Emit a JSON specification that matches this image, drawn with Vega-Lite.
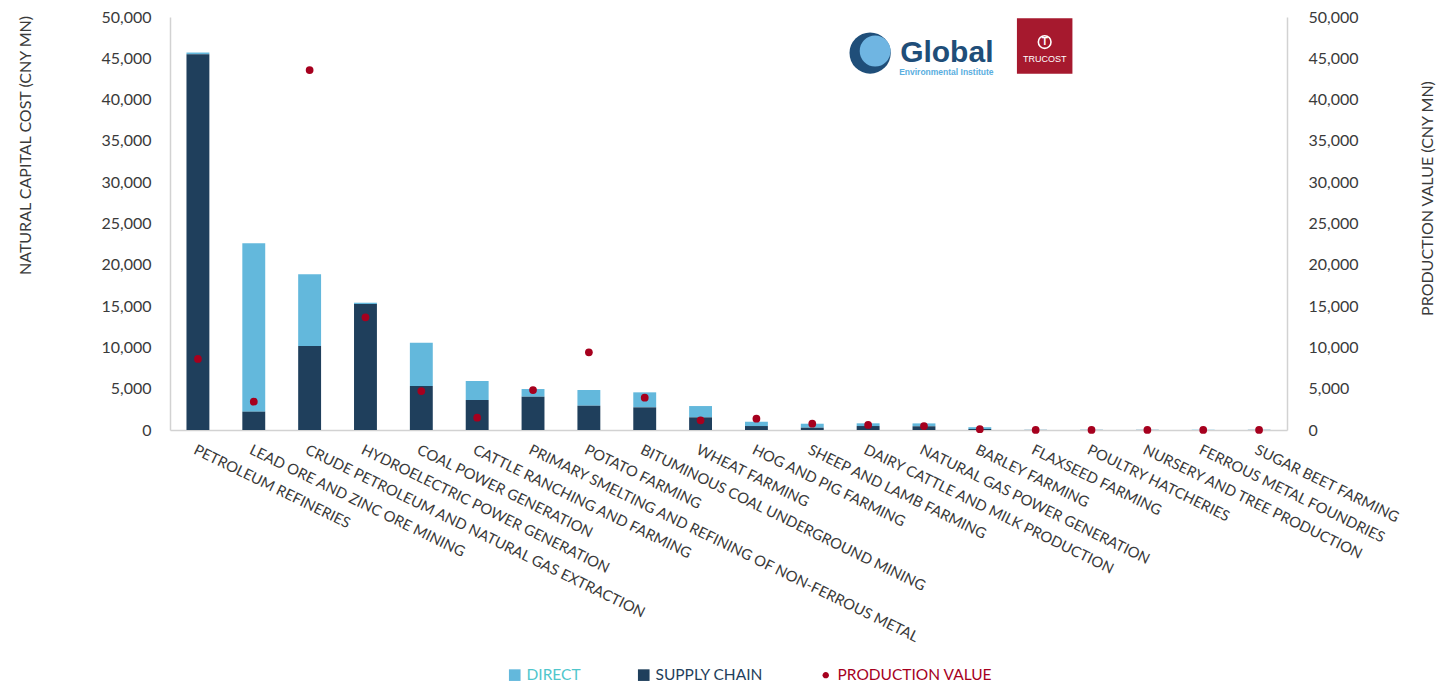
{
  "$schema": "https://vega.github.io/schema/vega-lite/v6.json",
  "width": 1117,
  "height": 413,
  "autosize": {"type": "none"},
  "padding": {"left": 170, "top": 17, "right": 159, "bottom": 255},
  "background": "white",
  "config": {
    "view": {"stroke": null},
    "font": "Lato",
    "axis": {"grid": false, "ticks": false, "domainColor": "#d2d2d2", "domainWidth": 1.5, "labelColor": "#3a3a3a", "titleColor": "#3a3a3a", "titleFontWeight": "normal", "labelFont": "Lato", "titleFont": "Lato"}
  },
  "data": {
    "values": [
      {"industry": "PETROLEUM REFINERIES", "DIRECT": 200, "SUPPLY CHAIN": 45500, "production": 8600},
      {"industry": "LEAD ORE AND ZINC ORE MINING", "DIRECT": 20380, "SUPPLY CHAIN": 2220, "production": 3430},
      {"industry": "CRUDE PETROLEUM AND NATURAL GAS EXTRACTION", "DIRECT": 8680, "SUPPLY CHAIN": 10170, "production": 43580},
      {"industry": "HYDROELECTRIC POWER GENERATION", "DIRECT": 160, "SUPPLY CHAIN": 15250, "production": 13640},
      {"industry": "COAL POWER GENERATION", "DIRECT": 5240, "SUPPLY CHAIN": 5330, "production": 4720},
      {"industry": "CATTLE RANCHING AND FARMING", "DIRECT": 2300, "SUPPLY CHAIN": 3630, "production": 1490},
      {"industry": "PRIMARY SMELTING AND REFINING OF NON-FERROUS METAL", "DIRECT": 930, "SUPPLY CHAIN": 4030, "production": 4840},
      {"industry": "POTATO FARMING", "DIRECT": 1900, "SUPPLY CHAIN": 2940, "production": 9400},
      {"industry": "BITUMINOUS COAL UNDERGROUND MINING", "DIRECT": 1820, "SUPPLY CHAIN": 2740, "production": 3910},
      {"industry": "WHEAT FARMING", "DIRECT": 1370, "SUPPLY CHAIN": 1530, "production": 1170},
      {"industry": "HOG AND PIG FARMING", "DIRECT": 520, "SUPPLY CHAIN": 480, "production": 1370},
      {"industry": "SHEEP AND LAMB FARMING", "DIRECT": 480, "SUPPLY CHAIN": 280, "production": 760},
      {"industry": "DAIRY CATTLE AND MILK PRODUCTION", "DIRECT": 330, "SUPPLY CHAIN": 480, "production": 620},
      {"industry": "NATURAL GAS POWER GENERATION", "DIRECT": 350, "SUPPLY CHAIN": 450, "production": 480},
      {"industry": "BARLEY FARMING", "DIRECT": 220, "SUPPLY CHAIN": 120, "production": 100},
      {"industry": "FLAXSEED FARMING", "DIRECT": 20, "SUPPLY CHAIN": 10, "production": 10},
      {"industry": "POULTRY HATCHERIES", "DIRECT": 20, "SUPPLY CHAIN": 10, "production": 10},
      {"industry": "NURSERY AND TREE PRODUCTION", "DIRECT": 20, "SUPPLY CHAIN": 10, "production": 10},
      {"industry": "FERROUS METAL FOUNDRIES", "DIRECT": 20, "SUPPLY CHAIN": 10, "production": 10},
      {"industry": "SUGAR BEET FARMING", "DIRECT": 20, "SUPPLY CHAIN": 10, "production": 10}
    ]
  },
  "layer": [
    {
      "layer": [
        {
          "transform": [{"fold": ["DIRECT", "SUPPLY CHAIN"], "as": ["series", "cost"]}],
          "mark": {"type": "bar"},
          "encoding": {
            "x": {
              "field": "industry", "type": "nominal", "sort": null, "title": null,
              "scale": {
                "domain": ["PETROLEUM REFINERIES", "LEAD ORE AND ZINC ORE MINING", "CRUDE PETROLEUM AND NATURAL GAS EXTRACTION", "HYDROELECTRIC POWER GENERATION", "COAL POWER GENERATION", "CATTLE RANCHING AND FARMING", "PRIMARY SMELTING AND REFINING OF NON-FERROUS METAL", "POTATO FARMING", "BITUMINOUS COAL UNDERGROUND MINING", "WHEAT FARMING", "HOG AND PIG FARMING", "SHEEP AND LAMB FARMING", "DAIRY CATTLE AND MILK PRODUCTION", "NATURAL GAS POWER GENERATION", "BARLEY FARMING", "FLAXSEED FARMING", "POULTRY HATCHERIES", "NURSERY AND TREE PRODUCTION", "FERROUS METAL FOUNDRIES", "SUGAR BEET FARMING"],
                "paddingInner": 0.59, "paddingOuter": 0.295
              },
              "axis": {"labelAngle": 26, "labelAlign": "left", "labelBaseline": "top", "labelPadding": 12, "labelFontSize": 14.8, "labelLimit": 1000, "labelOverlap": false}
            },
            "y": {
              "field": "cost", "type": "quantitative", "stack": "zero",
              "scale": {"domain": [0, 50000], "nice": false},
              "axis": {"title": "NATURAL CAPITAL COST (CNY  MN)", "tickCount": 10, "format": ",.0f", "labelFontSize": 16, "labelPadding": 19, "titleFontSize": 16, "titleX": -145, "titleY": 128, "titleAngle": -90, "titleAlign": "center", "titleBaseline": "middle"}
            },
            "color": {
              "field": "series", "type": "nominal",
              "scale": {"domain": ["DIRECT", "SUPPLY CHAIN", "PRODUCTION VALUE"], "range": ["#63b8dc", "#1f3f5c", "#a6001e"]},
              "legend": {
                "title": null, "orient": "none", "legendX": 337, "legendY": 650, "direction": "horizontal",
                "labelFontSize": 15.5, "labelFont": "Lato", "columnPadding": 55, "labelOffset": 4,
                "symbolSize": 135, "symbolStrokeWidth": 0,
                "symbolType": {"expr": "datum.value === 'PRODUCTION VALUE' ? 'M -0.55,0 A 0.55,0.55 0 1,1 0.55,0 A 0.55,0.55 0 1,1 -0.55,0 Z' : 'square'"},
                "labelColor": {"expr": "datum.value === 'DIRECT' ? '#4fc6cc' : (datum.value === 'SUPPLY CHAIN' ? '#1f3f5c' : '#a6001e')"}
              }
            },
            "order": {"field": "series", "sort": "descending"}
          }
        },
        {
          "data": {"values": [{}]},
          "mark": {"type": "circle", "size": 1700, "color": "#1f4e79", "opacity": 1, "xOffset": 2},
          "encoding": {
            "x": {"datum": "DAIRY CATTLE AND MILK PRODUCTION", "type": "nominal"},
            "y": {"datum": 45640, "type": "quantitative"}
          }
        },
        {
          "data": {"values": [{}]},
          "mark": {"type": "circle", "size": 950, "color": "#6fb5e2", "opacity": 1, "xOffset": 7, "yOffset": -2},
          "encoding": {
            "x": {"datum": "DAIRY CATTLE AND MILK PRODUCTION", "type": "nominal"},
            "y": {"datum": 45640, "type": "quantitative"}
          }
        },
        {
          "data": {"values": [{}]},
          "mark": {"type": "text", "text": "Global", "font": "Liberation Sans", "fontWeight": "bold", "fontSize": 30, "color": "#1f4e79", "align": "left", "baseline": "alphabetic", "dx": 32},
          "encoding": {
            "x": {"datum": "DAIRY CATTLE AND MILK PRODUCTION", "type": "nominal"},
            "y": {"datum": 44550, "type": "quantitative"}
          }
        },
        {
          "data": {"values": [{}]},
          "mark": {"type": "text", "text": "Environmental Institute", "font": "Liberation Sans", "fontWeight": "bold", "fontSize": 8.5, "color": "#5aaee0", "align": "left", "baseline": "alphabetic", "dx": 31},
          "encoding": {
            "x": {"datum": "DAIRY CATTLE AND MILK PRODUCTION", "type": "nominal"},
            "y": {"datum": 43000, "type": "quantitative"}
          }
        },
        {
          "data": {"values": [{}]},
          "mark": {"type": "square", "size": 3080, "color": "#a6192e", "opacity": 1, "filled": true, "xOffset": 9},
          "encoding": {
            "x": {"datum": "FLAXSEED FARMING", "type": "nominal"},
            "y": {"datum": 46489, "type": "quantitative"}
          }
        },
        {
          "data": {"values": [{}]},
          "mark": {"type": "point", "shape": "circle", "size": 160, "filled": false, "stroke": "white", "strokeWidth": 1.6, "opacity": 1, "xOffset": 9},
          "encoding": {
            "x": {"datum": "FLAXSEED FARMING", "type": "nominal"},
            "y": {"datum": 46973, "type": "quantitative"}
          }
        },
        {
          "data": {"values": [{}]},
          "mark": {"type": "text", "text": "T", "font": "Liberation Sans", "fontWeight": "bold", "fontSize": 10, "color": "white", "align": "center", "baseline": "middle", "dx": 9},
          "encoding": {
            "x": {"datum": "FLAXSEED FARMING", "type": "nominal"},
            "y": {"datum": 46973, "type": "quantitative"}
          }
        },
        {
          "data": {"values": [{}]},
          "mark": {"type": "text", "text": "TRUCOST", "font": "Liberation Sans", "fontSize": 9, "color": "white", "align": "center", "baseline": "middle", "dx": 9},
          "encoding": {
            "x": {"datum": "FLAXSEED FARMING", "type": "nominal"},
            "y": {"datum": 44915, "type": "quantitative"}
          }
        }
      ]
    },
    {
      "mark": {"type": "circle", "size": 60, "opacity": 1},
      "encoding": {
        "x": {"field": "industry", "type": "nominal", "sort": null, "title": null},
        "y": {
          "field": "production", "type": "quantitative",
          "scale": {"domain": [0, 50000], "nice": false},
          "axis": {"orient": "right", "title": "PRODUCTION VALUE (CNY MN)", "tickCount": 10, "format": ",.0f", "labelFontSize": 16, "labelPadding": 21, "labelAlign": "left", "titleFontSize": 16, "titleX": 140, "titleY": 181, "titleAngle": -90, "titleAlign": "center", "titleBaseline": "middle"}
        },
        "color": {"datum": "PRODUCTION VALUE", "type": "nominal"}
      }
    }
  ],
  "resolve": {"scale": {"y": "independent"}}
}
